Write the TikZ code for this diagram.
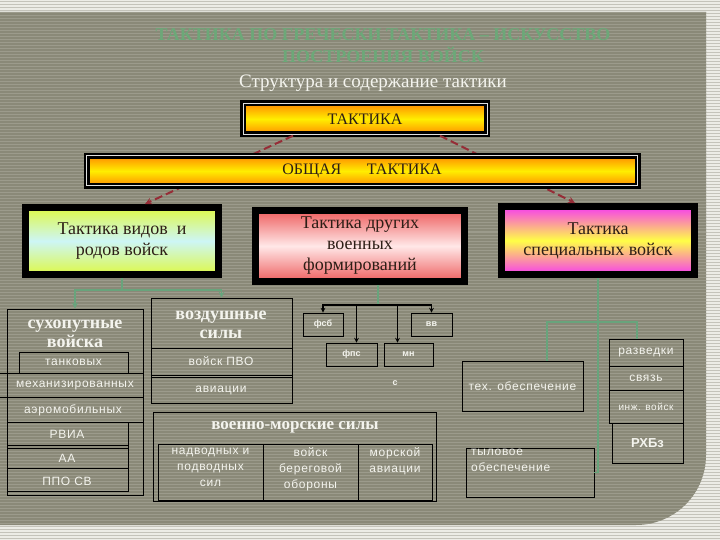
\documentclass[tikz,border=0pt]{standalone}
\usepackage{fontspec}
\setmainfont{Liberation Serif}
\setsansfont{Liberation Sans}
\newfontfamily\widesans[LetterSpace=6]{Liberation Sans}
\usetikzlibrary{positioning}

\definecolor{bgc}{RGB}{138,137,120}
\definecolor{stripec}{RGB}{156,155,140}
\definecolor{edgec}{RGB}{236,236,230}
\definecolor{ttlgreen}{RGB}{108,168,120}
\definecolor{dashred}{RGB}{150,45,55}
\definecolor{lgreen}{RGB}{104,164,124}
\definecolor{txtw}{RGB}{244,244,238}
\definecolor{boxtxt}{RGB}{45,30,22}

\newcommand\headfont{\fontsize{18}{21}\selectfont}
\newcommand\boldw{\fontsize{18}{19}\selectfont\bfseries}
\newcommand\smallw{\widesans\fontsize{12}{16}\selectfont}

\tikzset{
  goldbox/.style={draw=black, line width=2.5pt, double=white!75!gray, double distance=1pt,
    top color={rgb,255:red,255;green,140;blue,0}, bottom color={rgb,255:red,255;green,140;blue,0},
    middle color={rgb,255:red,255;green,238;blue,0}, text=boxtxt, font=\fontsize{16}{18}\selectfont},
  headbox/.style={draw=black, line width=7pt, text=boxtxt, align=center, font=\headfont},
  plain/.style={draw=black, line width=0.9pt},
  wtxt/.style={text=txtw, inner sep=1pt},
  dasharr/.style={->, dashred, line width=2pt, dash pattern=on 8pt off 4pt},
  grnline/.style={lgreen, line width=1.6pt},
  blkarr/.style={->, black, line width=1.1pt}
}

\begin{document}
\begin{tikzpicture}[x=1pt, y=-1pt, >=stealth]
  \useasboundingbox (0,0) rectangle (720,540);
  % background
  \fill[edgec] (0,0) rectangle (720,540);
  \foreach \y in {1,4,...,540}
    \draw[line width=0.8pt, stripec!60!white] (0,\y) -- (720,\y);
  \begin{scope}
    \clip (0,12) -- (706,12) -- (706,455) to[out=-90, in=0] (636,525) -- (0,525) -- cycle;
    \fill[bgc] (0,0) rectangle (720,540);
    \foreach \y in {13,16,...,525}
      \draw[line width=1pt, stripec] (0,\y) -- (720,\y);
  \end{scope}

  % titles
  \node[text=ttlgreen, align=center, font=\fontsize{18}{22}\selectfont\bfseries] (title) at (383,46)
    {ТАКТИКА ПО ГРЕЧЕСКИ ТАКТИКА -- ИСКУССТВО\\ПОСТРОЕНИЯ ВОЙСК};
  \node[text=txtw, font=\fontsize{19}{22}\selectfont] (sub) at (373,83) {Структура и содержание тактики};

  % upper level
  \node[goldbox, minimum width=244pt, minimum height=31pt] (tak) at (365,119) {ТАКТИКА};
  \node[headbox, minimum width=193pt, minimum height=67pt,
    top color={rgb,255:red,222;green,248;blue,70}, bottom color={rgb,255:red,222;green,248;blue,70},
    middle color={rgb,255:red,205;green,246;blue,246}] (vid) at (122,241) {Тактика видов\ \ и\\родов войск};
  \node[headbox, minimum width=209pt, minimum height=71pt,
    top color={rgb,255:red,238;green,95;blue,95}, bottom color={rgb,255:red,238;green,95;blue,95},
    middle color={rgb,255:red,255;green,232;blue,232}] (oth) at (360,246) {Тактика других\\военных\\формирований};
  \node[headbox, minimum width=193pt, minimum height=68pt,
    top color={rgb,255:red,246;green,60;blue,240}, bottom color={rgb,255:red,246;green,60;blue,240},
    middle color={rgb,255:red,255;green,255;blue,70}] (spec) at (598,240.5) {Тактика\\специальных войск};

  \draw[dasharr] ([xshift=-72pt]tak.south) -- ([xshift=23pt]vid.north);
  \draw[dasharr] ([xshift=75pt]tak.south) -- ([xshift=-23pt]spec.north);
  \node[goldbox, minimum width=551pt, minimum height=30pt] (gen) at (362,171) {ОБЩАЯ\hspace{1.6em}ТАКТИКА};

  % сухопутные войска
  \node[plain, minimum width=136pt, minimum height=186pt] (suh) at (75,402) {};
  \node[wtxt, align=center, font=\boldw] (suhtxt) at (75,334) {сухопутные\\войска};
  \node[plain, minimum width=109pt, minimum height=21pt] (tank) at (73.5,362.5) {};
  \node[wtxt, font=\smallw] at (tank) {танковых};
  \draw[plain] (0,373) -- (143,373);
  \draw[plain] (0,397) -- (143,397);
  \draw[plain] (7,422) -- (143,422);
  \node[wtxt, font=\smallw] (mech) at (75,386) {механизированных};
  \node[wtxt, font=\smallw] (aero) at (73,410) {аэромобильных};
  \node[plain, minimum width=121pt, minimum height=69pt] (low) at (67.5,456.5) {};
  \draw[plain] (7,445) -- (128,445);
  \draw[plain] (7,448) -- (128,448);
  \draw[plain] (7,468) -- (128,468);
  \node[wtxt, font=\smallw] (rvia) at (67,434) {РВИА};
  \node[wtxt, font=\smallw] (aa) at (67,458) {АА};
  \node[wtxt, font=\smallw] (pvo) at (67,481) {ППО СВ};

  % воздушные силы
  \node[plain, minimum width=141pt, minimum height=105pt] (air) at (221.5,350.5) {};
  \node[wtxt, align=center, font=\boldw] (airtxt) at (221,325) {воздушные\\силы};
  \draw[plain] (151,348) -- (292,348);
  \draw[plain] (151,375) -- (292,375);
  \draw[plain] (151,377.5) -- (292,377.5);
  \node[wtxt, font=\smallw] (airpvo) at (221,361) {войск ПВО};
  \node[wtxt, font=\smallw] (airav) at (221,390) {авиации};

  % военно-морские силы
  \node[plain, minimum width=283pt, minimum height=89pt] (navy) at (294.5,456.5) {};
  \node[wtxt, font=\fontsize{17}{19}\selectfont\bfseries] (navytxt) at (295,427) {военно-морские силы};
  \node[plain, minimum width=105pt, minimum height=56pt] (nv1) at (210.5,472) {};
  \node[plain, minimum width=95pt, minimum height=56pt] (nv2) at (310.5,472) {};
  \node[plain, minimum width=74pt, minimum height=56pt] (nv3) at (395,472) {};
  \node[wtxt, align=center, anchor=north, font=\smallw] at ([yshift=-3pt]nv1.north) {надводных и\\подводных\\сил};
  \node[wtxt, align=center, anchor=north, font=\smallw] at ([yshift=-3pt]nv2.north) {войск\\береговой\\обороны};
  \node[wtxt, align=center, anchor=north, font=\smallw] at ([yshift=-3pt]nv3.north) {морской\\авиации};

  % другие формирования
  \node[plain, minimum width=40pt, minimum height=23pt, wtxt, font=\sffamily\bfseries\small] (fsb) at (323,324.5) {фсб};
  \node[plain, minimum width=41pt, minimum height=23pt, wtxt, font=\sffamily\bfseries\small] (vv) at (431.5,324.5) {вв};
  \node[plain, minimum width=51pt, minimum height=23pt, wtxt, font=\sffamily\bfseries\small] (fps) at (351.5,354.5) {фпс};
  \node[plain, minimum width=49pt, minimum height=23pt, wtxt, font=\sffamily\bfseries\small] (mn) at (408.5,354.5) {мн};
  \node[wtxt, font=\sffamily\bfseries\small] (sc) at (395,383) {с};

  % специальные войска
  \node[plain, minimum width=121pt, minimum height=50pt, wtxt, font=\smallw] (teh) at (522.5,386) {тех. обеспечение};
  \node[plain, minimum width=128pt, minimum height=49pt] (tyl) at (530,472.5) {};
  \node[wtxt, align=left, anchor=north west, font=\smallw] at (470,448) {тыловое\\обеспечение};
  \node[plain, minimum width=74pt, minimum height=27pt, wtxt, font=\smallw] (razv) at (646,352.5) {разведки};
  \node[plain, minimum width=74pt, minimum height=24pt, wtxt, font=\smallw] (svz) at (646,378) {связь};
  \node[plain, minimum width=74pt, minimum height=33pt, wtxt, font=\widesans\fontsize{10}{12}\selectfont] (inzh) at (646,406.5) {инж. войск};
  \node[plain, minimum width=71pt, minimum height=40pt, wtxt, font=\sffamily\bfseries\fontsize{13}{15}\selectfont] (rhbz) at (647.5,443) {РХБз};

  % connectors
  \draw[grnline, ->] (vid.south) -- ++(0,12) -| (suh.north);
  \draw[grnline, ->] (vid.south) ++(0,12) -| (air.north);
  \coordinate (hub) at (378,305);
  \draw[grnline] ([xshift=18pt]oth.south) -- (hub);
  \draw[blkarr] (hub) -| (fsb.north);
  \draw[blkarr] (hub) -| (vv.north);
  \draw[blkarr] (hub) -| ([xshift=5pt]fps.north);
  \draw[blkarr] (hub) -| ([xshift=-11pt]mn.north);
  \coordinate (sj) at (600,322);
  \draw[grnline] (spec.south) |- (tyl.east);
  \draw[grnline] (sj) -| ([xshift=24.5pt]teh.north);
  \draw[grnline] (sj) -| ([xshift=-9pt]razv.north);
\end{tikzpicture}
\end{document}
